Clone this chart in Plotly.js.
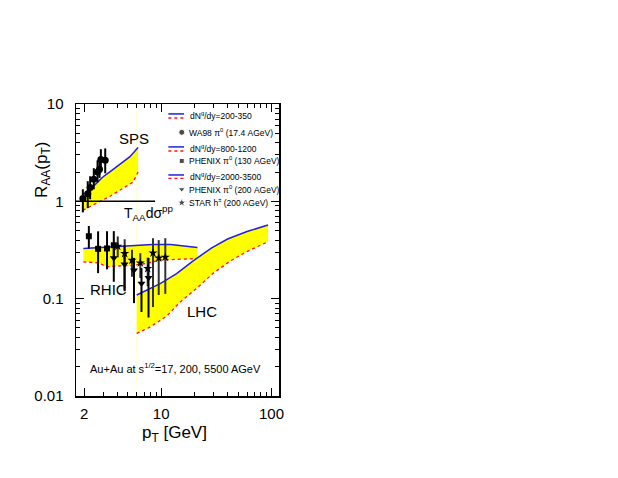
<!DOCTYPE html>
<html>
<head>
<meta charset="utf-8">
<script src="https://cdn.plot.ly/plotly-3.0.1.min.js"></script>
<style>body{margin:0;background:#fff}#plot{width:618px;height:478px}</style>
</head>
<body>
<div id="plot"></div>
<script>
// GLV bands
const spsUpX = [1.92, 2.24, 2.57, 2.96, 3.40, 3.92, 4.51, 5.18, 6.18];
const spsUpY = [1.155, 1.30, 1.52, 1.78, 2.00, 2.26, 2.54, 2.86, 3.57];
const spsLoX = [1.95, 2.57, 3.40, 4.51, 5.56, 6.18];
const spsLoY = [0.81, 0.95, 1.12, 1.36, 1.58, 2.0];

const rhicUpX = [1.97, 3.86, 5.48, 8.35, 12.2, 21.3];
const rhicUpY = [0.328, 0.340, 0.352, 0.360, 0.360, 0.335];
const rhicLoX = [1.97, 2.72, 3.22, 3.86, 5.48, 7.79, 9.87, 13.5, 21.3];
const rhicLoY = [0.239, 0.233, 0.212, 0.216, 0.219, 0.233, 0.250, 0.254, 0.258];

const lhcUpX = [6.0, 9.8, 13.8, 19.5, 28.5, 40, 60, 89, 93];
const lhcUpY = [0.109, 0.143, 0.181, 0.245, 0.33, 0.41, 0.49, 0.56, 0.57];
const lhcLoX = [6.0, 7.9, 11.2, 14.8, 21.0, 29.7, 42, 59.5, 93];
const lhcLoY = [0.044, 0.051, 0.066, 0.092, 0.128, 0.183, 0.243, 0.304, 0.385];

// T_AA dsigma^pp reference
const refX = [1.69, 8.8];
const refY = [1, 1];

// data
const wa98X  = [1.95, 2.16, 2.27, 2.45, 2.65, 2.76, 2.84, 3.11];
const wa98Y  = [1.07, 1.20, 1.39, 1.69, 2.00, 2.14, 2.69, 2.65];
const wa98Up = [0.26, 0.41, 0.42, 0.50, 0.64, 0.50, 0.74, 0.85];
const wa98Dn = [0.30, 0.35, 0.34, 0.36, 0.43, 0.40, 0.70, 0.71];

const phx130X  = [2.21, 2.68, 3.23, 3.72];
const phx130Y  = [0.438, 0.325, 0.328, 0.354];
const phx130Up = [0.12, 0.167, 0.165, 0.14];
const phx130Dn = [0.11, 0.142, 0.128, 0.09];

const phx200X  = [3.72, 4.65, 5.67, 6.63, 7.68];
const phx200Y  = [0.262, 0.226, 0.196, 0.143, 0.164];
const phx200Up = [0.11, 0.129, 0.066, 0.063, 0.098];
const phx200Dn = [0.113, 0.104, 0.106, 0.07, 0.10];

const starX  = [4.04, 4.67, 5.44, 6.47, 7.55, 8.43, 9.50, 10.9];
const starY  = [0.346, 0.291, 0.248, 0.233, 0.204, 0.295, 0.262, 0.267];
const starUp = [0.09, 0.117, 0.07, 0.06, 0.06, 0.123, 0.138, 0.151];
const starDn = [0.08, 0.172, 0.08, 0.07, 0.07, 0.213, 0.153, 0.155];

const bandLabels = ['dN<sup>g</sup>/dy=200-350', 'dN<sup>g</sup>/dy=800-1200', 'dN<sup>g</sup>/dy=2000-3500'];
const dataLabels = ['WA98 π<sup>0</sup> (17.4 AGeV)', 'PHENIX π<sup>0</sup> (130 AGeV)',
                    'PHENIX π<sup>0</sup> (200 AGeV)', 'STAR h<sup>±</sup> (200 AGeV)'];

const FONT = 'Liberation Sans, Arial, Helvetica, sans-serif';
const YELLOW = '#ffff00', BLUE = '#2020e0', RED = '#ff1010';

function band(upX, upY, loX, loY) {
  return [
    {x: upX.concat(loX.slice().reverse()), y: upY.concat(loY.slice().reverse()),
     mode: 'lines', fill: 'toself', fillcolor: YELLOW, line: {width: 0}},
    {x: upX, y: upY, mode: 'lines', line: {color: BLUE, width: 1.5}},
    {x: loX, y: loY, mode: 'lines', line: {color: RED, width: 1.3, dash: 'dot'}}
  ];
}

function points(x, y, up, dn, symbol, size, barColor) {
  return {
    x: x, y: y, mode: 'markers',
    marker: {symbol: symbol, size: size, color: 'black'},
    error_y: {type: 'data', symmetric: false, array: up, arrayminus: dn,
              color: barColor, thickness: 2, width: 0}
  };
}

const traces = [
  // faint fill edge seen in the original
  {x: [lhcUpX[0], lhcUpX[0]], y: [0.01, 10], mode: 'lines',
   line: {color: 'rgba(255,255,0,0.18)', width: 1}},
  ...band(spsUpX, spsUpY, spsLoX, spsLoY),
  ...band(rhicUpX, rhicUpY, rhicLoX, rhicLoY),
  ...band(lhcUpX, lhcUpY, lhcLoX, lhcLoY),
  {x: refX, y: refY, mode: 'lines', line: {color: 'black', width: 1.5}},
  points(wa98X, wa98Y, wa98Up, wa98Dn, 'circle', 7, 'black'),
  points(starX, starY, starUp, starDn, 'star', 7, '#333'),
  points(phx130X, phx130Y, phx130Up, phx130Dn, 'square', 6, 'black'),
  points(phx200X, phx200Y, phx200Up, phx200Dn, 'triangle-down', 7, 'black')
];

// legend, drawn in an overlay frame 0..1 over the plot area
const lgLineX = [0.455, 0.532];
const lgBlueY = [0.966, 0.853, 0.757];
const lgRedY = [0.952, 0.839, 0.745];
const lgBandTextY = [0.960, 0.846, 0.753];
const lgDataY = [0.903, 0.805, 0.708, 0.662];
const lgSymbols = ['circle', 'square', 'triangle-down', 'star'];
const lgSizes = [6, 5, 6, 7];

lgBlueY.forEach((y, i) => {
  traces.push({x: lgLineX, y: [y, y], xaxis: 'x2', yaxis: 'y2', mode: 'lines',
               line: {color: BLUE, width: 1.5}});
  traces.push({x: lgLineX, y: [lgRedY[i], lgRedY[i]], xaxis: 'x2', yaxis: 'y2', mode: 'lines',
               line: {color: RED, width: 1.3, dash: 'dot'}});
});
traces.push({x: lgDataY.map(() => 0.521), y: lgDataY, xaxis: 'x2', yaxis: 'y2', mode: 'markers',
             marker: {symbol: lgSymbols, size: lgSizes, color: 'black'}});

const annotations = [];
function label(text, x, y, size, extra) {
  annotations.push(Object.assign({text: text, x: x, y: y, xref: 'paper', yref: 'paper',
    xanchor: 'center', yanchor: 'middle', showarrow: false,
    font: {family: FONT, size: size, color: 'black'}}, extra || {}));
}
bandLabels.forEach((t, i) => label(t, 0.553, lgBandTextY[i], 8.5, {xanchor: 'left'}));
dataLabels.forEach((t, i) => label(t, 0.548, lgDataY[i], 8.5, {xanchor: 'left'}));

label('SPS', 0.284, 0.881, 15);
label('T<sub>AA</sub>dσ<sup>pp</sup>', 0.225, 0.627, 14, {xanchor: 'left'});
label('RHIC', 0.158, 0.366, 15);
label('LHC', 0.619, 0.288, 15);
label('Au+Au at s<sup>1/2</sup>=17, 200, 5500 AGeV', 0.0606, 0.096, 11, {xanchor: 'left'});
label('R<sub>AA</sub>(p<sub>T</sub>)', -0.163, 0.774, 17, {textangle: -90});
label('p<sub>T</sub> [GeV]', 0.483, -0.130, 17);

const axisCommon = {
  type: 'log', showline: true, linecolor: 'black', linewidth: 1.5, mirror: 'ticks',
  ticks: 'inside', ticklen: 8, tickwidth: 1, tickcolor: 'black',
  showgrid: false, zeroline: false, tickfont: {family: FONT, size: 15, color: 'black'}
};

const layout = {
  width: 618, height: 478,
  margin: {l: 76, r: 339, t: 104, b: 82},
  paper_bgcolor: 'white', plot_bgcolor: 'white',
  showlegend: false,
  xaxis: Object.assign({}, axisCommon, {
    range: [Math.log10(1.69), Math.log10(117)],
    tickvals: [2, 10, 100], ticktext: ['2', '10', '100'], ticklabelstandoff: 3,
    minor: {tickvals: [3, 4, 5, 6, 7, 8, 9, 20, 30, 40, 50, 60, 70, 80, 90],
            ticks: 'inside', ticklen: 4, tickcolor: 'black', showgrid: false}
  }),
  yaxis: Object.assign({}, axisCommon, {
    range: [-2, 1],
    tickvals: [0.01, 0.1, 1, 10], ticktext: ['0.01', '0.1', '1', '10'], ticklabelstandoff: 8,
    minor: {tickvals: [0.02, 0.03, 0.04, 0.05, 0.06, 0.07, 0.08, 0.09,
                       0.2, 0.3, 0.4, 0.5, 0.6, 0.7, 0.8, 0.9,
                       2, 3, 4, 5, 6, 7, 8, 9],
            ticks: 'inside', ticklen: 4, tickcolor: 'black', showgrid: false}
  }),
  xaxis2: {overlaying: 'x', anchor: 'y2', range: [0, 1], visible: false},
  yaxis2: {overlaying: 'y', anchor: 'x2', range: [0, 1], visible: false},
  annotations: annotations
};

Plotly.newPlot('plot', traces, layout, {staticPlot: true, displayModeBar: false});
</script>
</body>
</html>
